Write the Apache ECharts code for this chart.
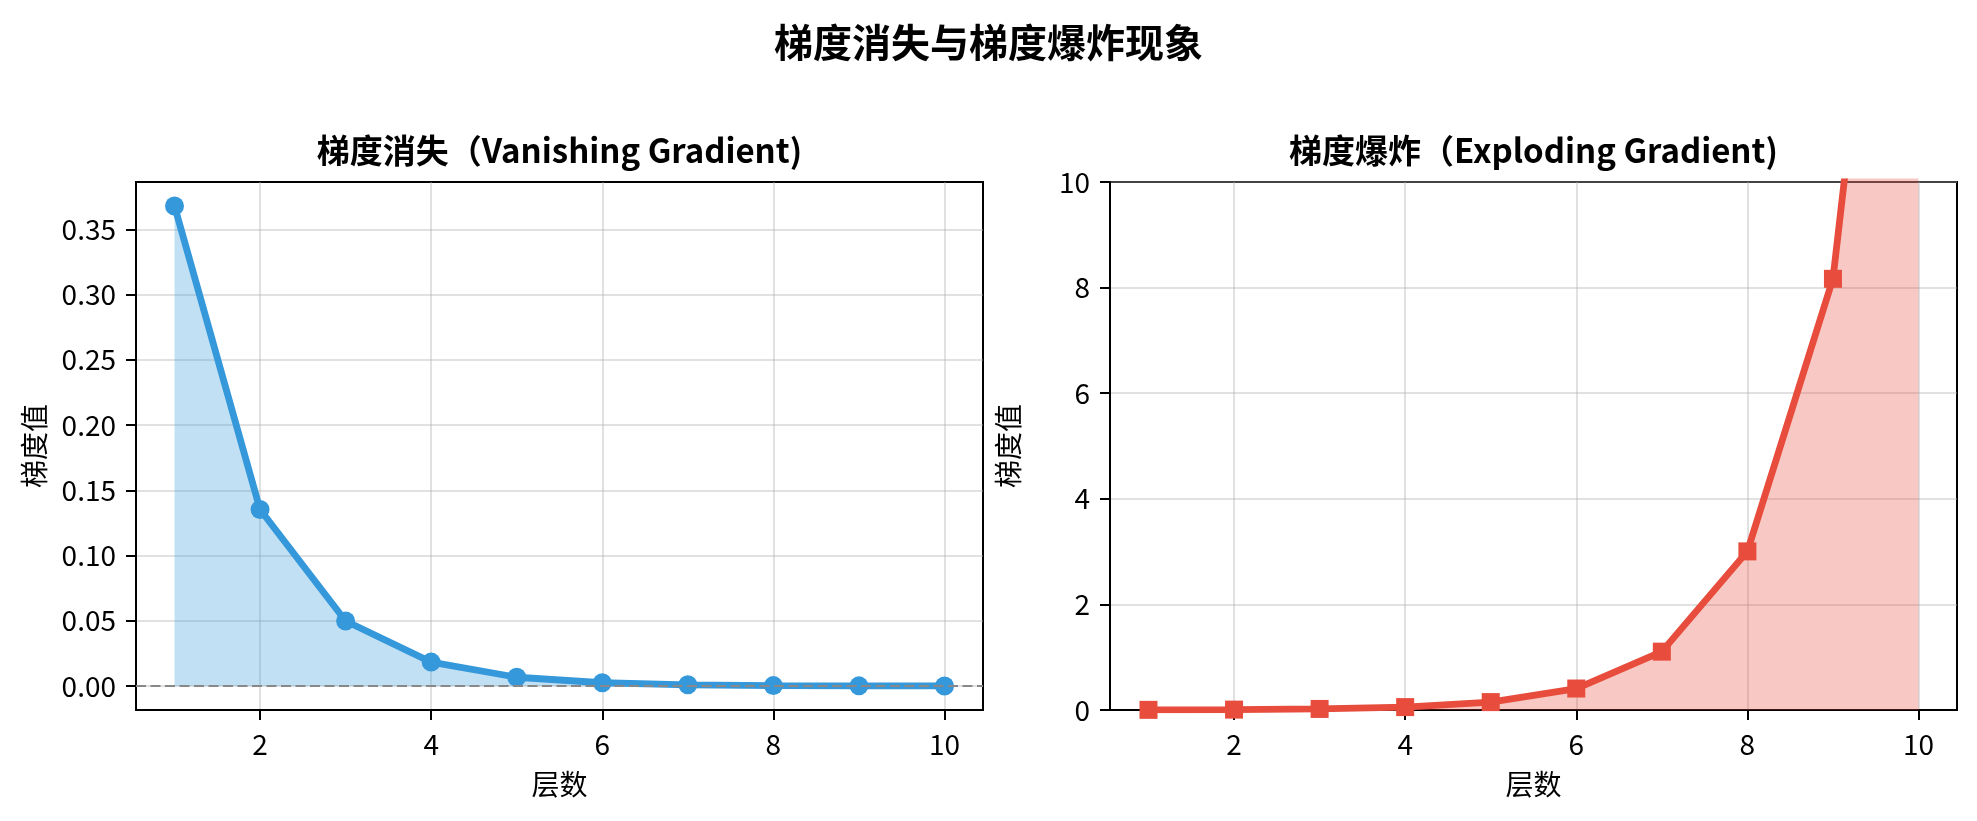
<!DOCTYPE html>
<html>
<head>
<meta charset="utf-8">
<script src="https://cdn.jsdelivr.net/npm/echarts@6/dist/echarts.min.js"></script>
<style>
  html, body { margin: 0; padding: 0; background: #fff; }
  #chart { width: 1977px; height: 821px; }
</style>
</head>
<body>
<div id="chart"></div>
<script>
// ---- data ----
const layers = [1, 2, 3, 4, 5, 6, 7, 8, 9, 10];
const vanishing = [0.3679, 0.1353, 0.0498, 0.0183, 0.0067, 0.0025, 0.0009, 0.0003, 0.0001, 0.00005];
const exploding = [0.0027, 0.0074, 0.0202, 0.0550, 0.1496, 0.4066, 1.1052, 3.0042, 8.1662, 22.198];
const xTicks = [2, 4, 6, 8, 10];
const leftYTicks = [0.00, 0.05, 0.10, 0.15, 0.20, 0.25, 0.30, 0.35];
const rightYTicks = [0, 2, 4, 6, 8, 10];
const suptitle = '梯度消失与梯度爆炸现象';
const leftTitle = '梯度消失（Vanishing Gradient)';
const rightTitle = '梯度爆炸（Exploding Gradient)';
const xName = '层数';
const yName = '梯度值';

// ---- styling / layout ----
const FONT = '"Noto Sans CJK SC", "Noto Sans", sans-serif';
const grids = [
  { left: 136, top: 182, width: 847, height: 528 },
  { left: 1110, top: 182, width: 847, height: 528 }
];
const gridLineStyle = { color: 'rgba(176,176,176,0.38)', width: 2 };

function xAxisFor(gi) {
  return {
    type: 'value', gridIndex: gi, min: 0.55, max: 10.45,
    name: xName, nameLocation: 'middle', nameGap: 60,
    nameTextStyle: { fontSize: 28, color: '#000', fontFamily: FONT },
    axisLine: { show: true, onZero: false, lineStyle: { color: '#000', width: 2 } },
    axisTick: { show: true, inside: false, length: 10, lineStyle: { color: '#000', width: 2 }, customValues: xTicks },
    axisLabel: { show: true, margin: 20, fontSize: 28, color: '#000', fontFamily: FONT, customValues: xTicks,
      formatter: v => String(v) },
    splitLine: { show: true, lineStyle: gridLineStyle }
  };
}
function yAxisFor(gi, min, max, ticks, fmt) {
  return {
    type: 'value', gridIndex: gi, min: min, max: max,
    name: yName, nameLocation: 'middle', nameGap: 88,
    nameTextStyle: { fontSize: 28, color: '#000', fontFamily: FONT },
    axisLine: { show: true, onZero: false, lineStyle: { color: '#000', width: 2 } },
    axisTick: { show: true, inside: false, length: 10, lineStyle: { color: '#000', width: 2 }, customValues: ticks },
    axisLabel: { show: true, margin: 20, fontSize: 28, color: '#000', fontFamily: FONT, customValues: ticks,
      formatter: fmt },
    splitLine: { show: true, lineStyle: gridLineStyle }
  };
}

const chart = echarts.init(document.getElementById('chart'), null, { renderer: 'canvas' });
chart.setOption({
  animation: false,
  backgroundColor: '#fff',
  title: [
    { text: suptitle, left: 988.5, top: 42, textAlign: 'center', textVerticalAlign: 'middle', padding: 0,
      textStyle: { fontSize: 39, fontWeight: 'bold', color: '#000', fontFamily: FONT } },
    { text: leftTitle, left: 559.5, top: 150, textAlign: 'center', textVerticalAlign: 'middle', padding: 0,
      textStyle: { fontSize: 33, fontWeight: 'bold', color: '#000', fontFamily: FONT } },
    { text: rightTitle, left: 1533.5, top: 150, textAlign: 'center', textVerticalAlign: 'middle', padding: 0,
      textStyle: { fontSize: 33, fontWeight: 'bold', color: '#000', fontFamily: FONT } }
  ],
  grid: grids.map(g => Object.assign({ show: true, borderColor: '#000', borderWidth: 2, backgroundColor: 'transparent' }, g)),
  xAxis: [xAxisFor(0), xAxisFor(1)],
  yAxis: [
    yAxisFor(0, -0.0184, 0.3863, leftYTicks, v => Number(v).toFixed(2)),
    yAxisFor(1, 0, 10, rightYTicks, v => String(v))
  ],
  series: [
    {
      type: 'line', xAxisIndex: 0, yAxisIndex: 0, clip: true,
      data: layers.map((x, i) => [x, vanishing[i]]),
      symbol: 'circle', symbolSize: 19,
      lineStyle: { color: '#3498db', width: 6.8 },
      itemStyle: { color: '#3498db' },
      areaStyle: { color: '#3498db', opacity: 0.3, origin: 'auto' },
      markLine: {
        silent: true, symbol: ['none', 'none'], label: { show: false },
        lineStyle: { color: '#888', type: [10, 4.5], width: 2.2 },
        data: [{ yAxis: 0 }]
      }
    },
    {
      type: 'line', xAxisIndex: 1, yAxisIndex: 1, clip: true,
      data: layers.map((x, i) => [x, exploding[i]]),
      symbol: 'rect', symbolSize: 18,
      lineStyle: { color: '#e74c3c', width: 6.8 },
      itemStyle: { color: '#e74c3c' },
      areaStyle: { color: '#e74c3c', opacity: 0.3, origin: 'auto' }
    }
  ]
});
</script>
</body>
</html>
